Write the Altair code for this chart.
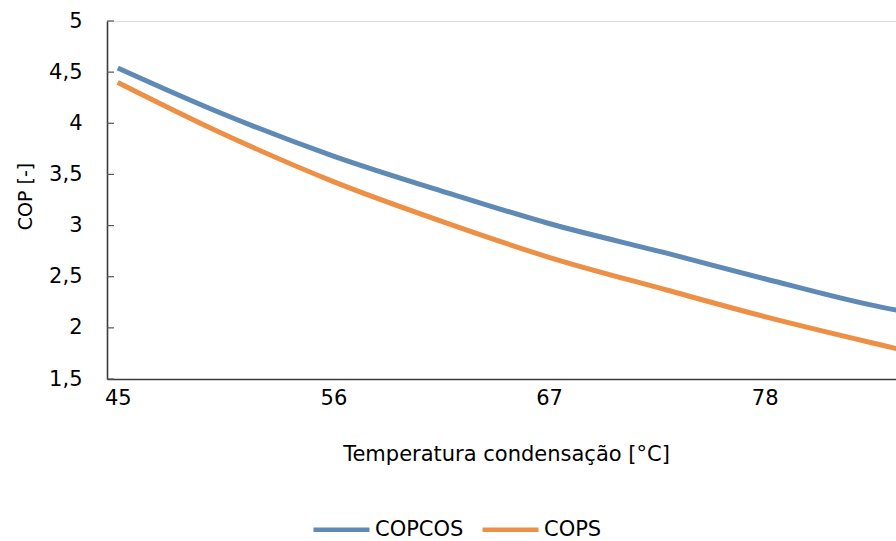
import altair as alt
import pandas as pd

temps = [45, 50, 56, 62, 67, 73, 78, 84, 86]
copcos = [4.54, 4.12, 3.68, 3.31, 3.02, 2.73, 2.48, 2.20, 2.13]
cops = [4.40, 3.93, 3.43, 3.01, 2.69, 2.37, 2.11, 1.83, 1.74]
series = ["COPCOS", "COPS"]
colors = ["#5F8AB5", "#ED8F45"]
x_ticks = [45, 56, 67, 78]
y_ticks = [1.5, 2, 2.5, 3, 3.5, 4, 4.5, 5]

rows = []
for t, a, b in zip(temps, copcos, cops):
    rows.append({"T": t, "COP": a, "serie": series[0]})
    rows.append({"T": t, "COP": b, "serie": series[1]})
df = pd.DataFrame(rows)
ticks_df = pd.DataFrame({"v": y_ticks})

FONT = "DejaVu Sans"
FS = 21
xscale = alt.Scale(domain=[44.45, 84.7], nice=False, zero=False)
yscale = alt.Scale(domain=[1.5, 5], nice=False, zero=False)

lines = alt.Chart(df).mark_line(strokeWidth=5, interpolate="monotone", clip=True, strokeCap="butt").encode(
    x=alt.X("T:Q", scale=xscale,
            axis=alt.Axis(values=x_ticks, title="Temperatura condensação [°C]", ticks=False,
                          grid=False, domainColor="#3a3a3a", domainWidth=1.6,
                          labelFont=FONT, labelFontSize=FS, labelColor="#000", labelPadding=8,
                          labelFlush=False,
                          titleFont=FONT, titleFontSize=FS, titleFontWeight="normal", titleColor="#000",
                          titleX=399, titleY=75, titleBaseline="middle", titleAnchor="middle")),
    y=alt.Y("COP:Q", scale=yscale,
            axis=alt.Axis(values=y_ticks, title="COP [-]", ticks=False, grid=False,
                          domainColor="#3a3a3a", domainWidth=1.6,
                          labelExpr="replace(toString(datum.value), '.', ',')",
                          labelFont=FONT, labelFontSize=FS, labelColor="#000", labelPadding=25,
                          titleFont=FONT, titleFontSize=19, titleFontWeight="normal", titleColor="#000",
                          titleX=-82, titleY=175, titleBaseline="middle", titleAngle=-90)),
    color=alt.Color("serie:N", scale=alt.Scale(domain=series, range=colors),
                    legend=alt.Legend(title=None, orient="none", direction="horizontal",
                                      legendX=204, legendY=478,
                                      symbolType="stroke", symbolSize=3136, symbolStrokeWidth=4.5,
                                      labelFont=FONT, labelFontSize=FS, labelColor="#000",
                                      labelOffset=3, columnPadding=9, symbolOffset=0)),
)

inner_ticks = alt.Chart(ticks_df).mark_rule(color="#555", strokeWidth=1.2).encode(
    y=alt.Y("v:Q", scale=yscale),
    x=alt.value(0),
    x2=alt.value(7),
)

chart = alt.layer(inner_ticks, lines).properties(
    width=789, height=358,
    autosize=alt.AutoSizeParams(type="none"),
    padding={"left": 107, "top": 21, "right": 0, "bottom": 162},
).configure_view(stroke=None).configure(background="white")

chart.save("out.html", embed_options={"renderer": "svg", "actions": False})
